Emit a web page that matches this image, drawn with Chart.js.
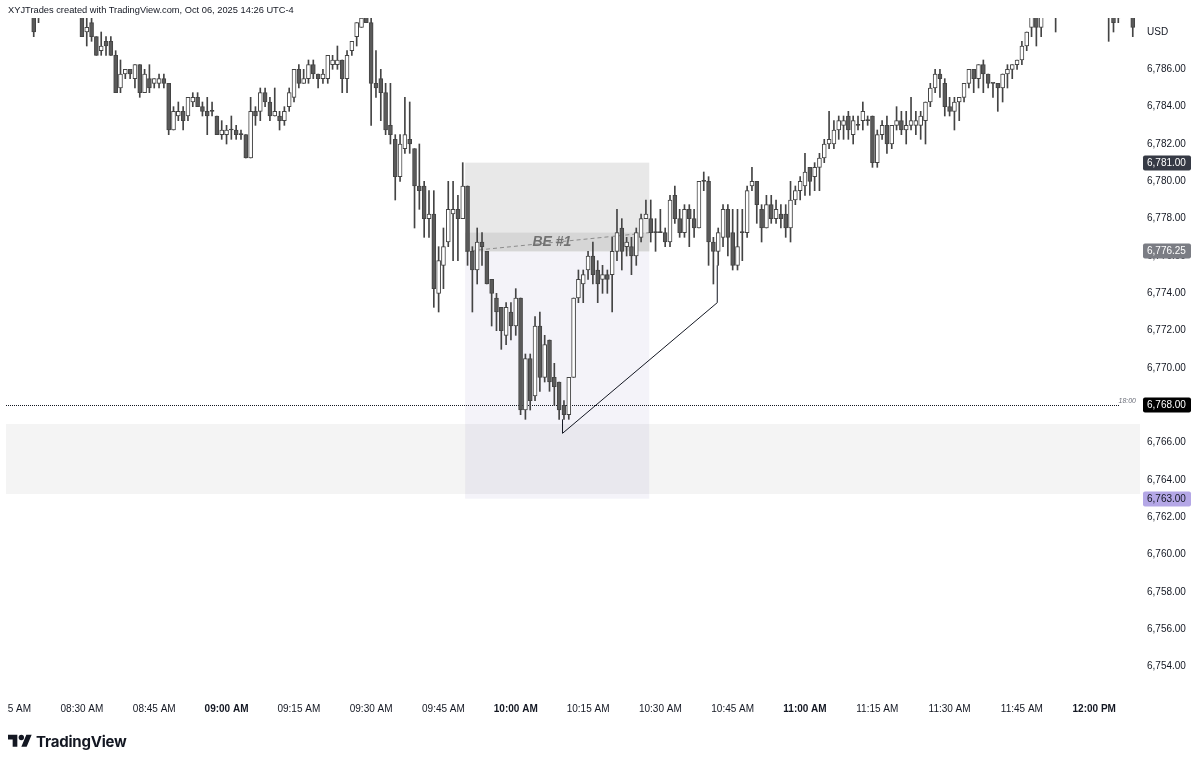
<!DOCTYPE html>
<html>
<head>
<meta charset="utf-8">
<title>XYJTrades 1m chart</title>
<script src="https://cdn.jsdelivr.net/npm/chart.js@4.4.1/dist/chart.umd.min.js"></script>
<style>
  html, body { margin: 0; padding: 0; background: #fff; overflow: hidden; }
  body { width: 1200px; height: 763px; position: relative; font-family: "Liberation Sans", Arial, sans-serif; }
  #wrap { position: absolute; left: -40px; top: 0; width: 1240px; height: 763px; }
  #header { position: absolute; left: 8px; top: 5px; font-size: 9.3px; color: #131722; white-space: nowrap; }
  #logo { position: absolute; left: 8px; top: 732px; display: flex; align-items: center; gap: 4px; color: #131722; }
  #logo span { font-family: Inter, "Liberation Sans", sans-serif; font-weight: 700; font-size: 15px; letter-spacing: -0.2px; }
</style>
</head>
<body>
<div id="wrap"><canvas id="chart" width="1240" height="763"></canvas></div>
<div id="header">XYJTrades created with TradingView.com, Oct 06, 2025 14:26 UTC-4</div>
<div id="logo">
  <svg width="24" height="19" viewBox="0 0 36 28"><path d="M14 22H7V11H0V4h14v18zM28 22h-8l7.5-18h8L28 22z" fill="#131722"/><circle cx="20" cy="8" r="4" fill="#131722"/></svg>
  <span>TradingView</span>
</div>
<script>
// 1-minute candles
const times = [
  "08:20","08:21",
  "08:30","08:31","08:32","08:33","08:34","08:35","08:36","08:37","08:38","08:39",
  "08:40","08:41","08:42","08:43","08:44","08:45","08:46","08:47","08:48","08:49",
  "08:50","08:51","08:52","08:53","08:54","08:55","08:56","08:57","08:58","08:59",
  "09:00","09:01","09:02","09:03","09:04","09:05","09:06","09:07","09:08","09:09",
  "09:10","09:11","09:12","09:13","09:14","09:15","09:16","09:17","09:18","09:19",
  "09:20","09:21","09:22","09:23","09:24","09:25","09:26","09:27","09:28","09:29",
  "09:30","09:31","09:32","09:33","09:34","09:35","09:36","09:37","09:38","09:39",
  "09:40","09:41","09:42","09:43","09:44","09:45","09:46","09:47","09:48","09:49",
  "09:50","09:51","09:52","09:53","09:54","09:55","09:56","09:57","09:58","09:59",
  "10:00","10:01","10:02","10:03","10:04","10:05","10:06","10:07","10:08","10:09",
  "10:10","10:11","10:12","10:13","10:14","10:15","10:16","10:17","10:18","10:19",
  "10:20","10:21","10:22","10:23","10:24","10:25","10:26","10:27","10:28","10:29",
  "10:30","10:31","10:32","10:33","10:34","10:35","10:36","10:37","10:38","10:39",
  "10:40","10:41","10:42","10:43","10:44","10:45","10:46","10:47","10:48","10:49",
  "10:50","10:51","10:52","10:53","10:54","10:55","10:56","10:57","10:58","10:59",
  "11:00","11:01","11:02","11:03","11:04","11:05","11:06","11:07","11:08","11:09",
  "11:10","11:11","11:12","11:13","11:14","11:15","11:16","11:17","11:18","11:19",
  "11:20","11:21","11:22","11:23","11:24","11:25","11:26","11:27","11:28","11:29",
  "11:30","11:31","11:32","11:33","11:34","11:35","11:36","11:37","11:38","11:39",
  "11:40","11:41","11:42","11:43","11:44","11:45","11:46","11:47","11:48","11:49",
  "11:52","12:03","12:04","12:05","12:08"
];
const opens = [
  6789.5,6789.25,
  6789,6788,6788.5,6787.75,6787,6787.5,6787.5,6786.75,6785,6785.75,
  6786,6785.5,6786.25,6784.75,6785.5,6785.25,6785.25,6785.5,6785.25,6782.75,
  6783.5,6783.75,6783.5,6784.25,6784.5,6784,6783.75,6783.75,6783.5,6782.5,
  6782.5,6782.75,6782.75,6782.5,6782.5,6781.25,6783.75,6783.75,6784.75,6784.25,
  6783.5,6783.5,6783.25,6784,6784.5,6786,6785.25,6785.5,6786.25,6785.75,
  6785.5,6785.5,6786.25,6786.25,6786.5,6785.5,6787,6787.75,6788.25,6789.25,
  6788.5,6785.25,6785.5,6784.75,6783,6782.25,6780.25,6781.75,6782.25,6781.75,
  6779.75,6779.75,6778,6778.25,6774,6775.5,6776.75,6778.25,6778.5,6778,
  6779.75,6776.25,6775.25,6776.75,6776.25,6774.75,6773.75,6773.25,6771.75,6773,
  6772.25,6773.75,6767.75,6770.5,6768.5,6772.25,6769.5,6771.5,6769.5,6769.25,
  6768,6767.5,6769.5,6773.75,6774.5,6775.25,6776,6775.25,6774.75,6775,
  6775,6776.25,6777.5,6776.5,6776.5,6776,6777,6778,6778,6777.25,
  6777.25,6777.25,6776.75,6779.25,6778,6777.25,6778.5,6778,6777.5,6780,
  6780,6776.75,6776.25,6777,6778.5,6777.25,6775.5,6777.25,6777.25,6779.75,
  6780,6778.5,6777.5,6778.75,6778,6778.25,6778.25,6777.5,6779,6779.5,
  6779.75,6780.75,6780.25,6780.75,6781.25,6782,6782,6782.75,6783,6783.5,
  6782.5,6783,6783.25,6783.25,6783.5,6781,6782.5,6783,6782,6783,
  6783.25,6782.75,6783,6783,6783,6783.25,6784.25,6785,6785.75,6785.25,
  6784,6783.75,6784.25,6784.5,6785.25,6786,6785.5,6786.25,6785.75,6785.25,
  6785.25,6785,6785.75,6786,6786.25,6786.5,6787.25,6788.25,6789,6788.25,
  6789.5,6789.5,6789,6789,6789
];
const highs = [
  6790,6789.5,
  6789.5,6789,6789,6787.75,6788,6787.75,6787.75,6787,6786.5,6786,
  6786,6786.25,6786.25,6786,6786.25,6785.5,6785.75,6785.75,6785.25,6784,
  6784.25,6784,6784.5,6784.75,6784.75,6784.25,6784.5,6784.25,6783.5,6783.25,
  6783,6783.5,6783,6782.75,6782.5,6784.5,6784,6785,6785,6784.5,
  6785,6783.75,6784,6785,6786,6786.25,6786,6786.5,6786.5,6785.75,
  6786,6786.75,6786.75,6787.25,6786.5,6787,6787.5,6788.5,6789,6789.5,
  6789,6787,6786,6785.25,6785.25,6782.5,6782.5,6784.5,6784.25,6781.75,
  6782,6780,6779.5,6779.5,6776.5,6777.5,6780,6780,6779.25,6781,
  6779.75,6776.5,6777.5,6777.25,6776.25,6774.75,6774,6773.25,6773.5,6773.5,
  6774.25,6773.75,6770.75,6770.75,6772.75,6773,6771.75,6771.5,6770.25,6769.25,
  6768.25,6769.5,6773.75,6775.25,6775.25,6776.25,6776.75,6775.75,6775.5,6775.25,
  6777,6778.5,6778,6777,6777,6777.5,6778.25,6779,6779,6778,
  6778.5,6777.5,6779.25,6779.75,6778.5,6778.75,6778.75,6778.5,6780,6780.5,
  6780.25,6777,6777.5,6778.75,6778.75,6778.5,6778.5,6778.5,6779.75,6780.75,
  6780,6778.75,6779.25,6779.25,6779,6778.75,6778.75,6780,6779.75,6780.25,
  6781.5,6780.75,6781,6781.5,6782.25,6783.75,6783.25,6783.5,6783.5,6783.75,
  6783.5,6783.5,6784.25,6783.5,6783.5,6782.75,6783.25,6783.5,6783,6784,
  6783.75,6783.75,6784.5,6783.75,6783.75,6784.25,6785.25,6786,6786,6785.5,
  6784.5,6784.5,6784.5,6785.25,6786,6786,6786.25,6786.5,6785.75,6785.25,
  6785.25,6785.75,6786.25,6786.25,6786.5,6787.5,6788,6789.25,6789.25,6789.5,
  6790,6790,6789.5,6789.5,6789.5
];
const lows = [
  6787.75,6788.5,
  6787.75,6787.25,6787.5,6786.75,6786.75,6786.75,6786.75,6784.75,6784.75,6785.5,
  6785.5,6785,6784.5,6784.75,6784.75,6785,6785,6785,6782.5,6782.75,
  6783.25,6782.75,6783.25,6784,6784,6783.5,6782.5,6783.5,6782.5,6782.25,
  6782,6782.25,6782.25,6782.25,6781.25,6781.25,6783,6783.25,6784,6783.25,
  6783.5,6782.75,6783,6783.75,6784.25,6785,6785.25,6785.25,6785.5,6785,
  6785.25,6785.25,6786,6786,6784.75,6784.75,6786.75,6787.25,6788.25,6788.5,
  6783,6784.5,6783.25,6782.5,6782,6779,6780,6781.5,6781.5,6777.5,
  6778.5,6777,6777,6773.25,6773,6774.25,6776.5,6775.75,6775.75,6778,
  6775.5,6773,6774.5,6775.5,6774.5,6772.25,6772,6771,6771.25,6771.5,
  6771.75,6767.5,6767.25,6767.75,6768.25,6768.75,6769.25,6768.75,6768,6767.25,
  6767.25,6767.25,6769.5,6773.5,6773.5,6774.75,6774.5,6773.5,6774,6774,
  6773,6775.75,6775.25,6776,6775,6775.5,6776.75,6778,6776.75,6776.25,
  6777.25,6776.5,6776.5,6777.75,6777,6777,6776.5,6777,6777.5,6779.5,
  6775.5,6774.5,6775.5,6776.5,6776,6775.25,6775.25,6775.75,6777,6779.5,
  6777.75,6776.75,6777.5,6777.75,6777.75,6777.5,6777,6776.75,6778.75,6779,
  6779.25,6779.25,6779.5,6779.5,6781,6781.75,6781.75,6782.25,6782.25,6782.25,
  6782,6782.75,6782.75,6783,6780.75,6780.75,6782.25,6781.5,6781.75,6782.75,
  6782.5,6782,6782.75,6782.5,6782.25,6782,6784,6784.75,6784.5,6783.5,
  6783.5,6782.75,6783.25,6784.25,6785,6784.75,6785,6784.75,6785,6784.5,
  6783.75,6784.25,6785,6785.5,6786,6786.25,6787,6787.75,6787.25,6787.75,
  6788,6787.5,6788,6788.5,6787.75
];
const closes = [
  6788,6789,
  6787.75,6788.25,6787.75,6786.75,6787.25,6787.25,6786.75,6784.75,6785.75,6786,
  6785.75,6786.25,6784.75,6785.75,6785,6785.5,6785.5,6785.25,6782.75,6783.75,
  6783.75,6783.25,6784.5,6784.5,6784,6783.75,6783.5,6783.75,6782.5,6782.75,
  6782.75,6782.75,6782.5,6782.5,6781.25,6783.75,6783.5,6784.75,6784.25,6783.5,
  6783.75,6783.25,6783.75,6784.75,6786,6785.25,6785.5,6786.25,6785.75,6785.5,
  6785.75,6786.75,6786.5,6786.5,6785.5,6786.75,6787.5,6788.5,6788.75,6788.5,
  6785.25,6785,6784.75,6782.75,6782.5,6780.25,6782,6782.5,6782,6779.75,
  6779.5,6778,6778.25,6774.25,6775.75,6776.5,6778.5,6778.5,6778,6779.75,
  6776.25,6775.25,6776.75,6776.5,6774.5,6774,6773,6772,6773.25,6772.25,
  6773.75,6767.75,6770.5,6768.25,6772.25,6769.5,6771.25,6769.25,6769,6767.75,
  6767.5,6769.5,6773.75,6774.75,6775,6776,6775,6774.5,6775,6774.75,
  6776.25,6777.25,6776.25,6776.75,6776,6777.25,6778,6778.25,6777.25,6777.25,
  6777.25,6776.75,6779,6778,6777.25,6778.5,6778,6777.5,6780,6780,
  6776.75,6776.25,6777.25,6778.5,6777,6775.5,6776.5,6777.25,6779.5,6780,
  6778.75,6777.5,6778.75,6778,6778.5,6778,6777.5,6779,6779.5,6780,
  6780.5,6780,6780.75,6781.25,6782,6782.25,6782.75,6783.25,6783.25,6782.75,
  6783.25,6783,6783.75,6783.25,6781,6782.5,6783,6782,6783,6783.25,
  6782.75,6783,6783.25,6783.25,6783.5,6784.25,6785,6785.75,6785.5,6784,
  6783.75,6784.25,6784.5,6785.25,6786,6785.5,6786.25,6785.75,6785.25,6785.25,
  6785,6785.75,6786,6786.25,6786.5,6787.25,6788,6789,6788.25,6789,
  6789.75,6789.25,6788.5,6789,6788.25
];

// axis ticks
const xTickTimes = ["08:15","08:30","08:45","09:00","09:15","09:30","09:45","10:00",
  "10:15","10:30","10:45","11:00","11:15","11:30","11:45","12:00"];
const yTickValues = [6754,6756,6758,6760,6762,6764,6766,6768,6770,6772,6774,6776,
  6778,6780,6782,6784,6786,6788];

// drawings on the chart
const zoneTimes = ["09:49:30", "10:27:42"];
const targetZone = [6781, 6776.25];
const riskZone = [6776.25, 6763];
const beBand = [6777.25, 6776.25];
const beLinePrices = [6776.25, 6777.25];
const lowBand = [6767, 6763.25];
const pathTimes = ["10:09:42", "10:09:42", "10:41:48", "10:41:48"];
const pathPrices = [6767.25, 6766.5, 6773.5, 6775.5];
const lastPrice = 6768;
const tagPrices = [6781, 6776.25, 6768, 6763];
const tagColors = ["#363a45", "#7b7d84", "#000000", "#b4a7e6"];
const tagText = ["#ffffff", "#ffffff", "#ffffff", "#131722"];

function toMin(t) {
  const p = t.split(":").map(Number);
  return p[0] * 60 + p[1] + (p[2] || 0) / 60;
}
function fmtTime(v) {
  const h = Math.floor(v / 60), m = Math.round(v % 60);
  const h12 = h > 12 ? h - 12 : h;
  return String(h12).padStart(2, "0") + ":" + String(m).padStart(2, "0") + (h >= 12 ? " PM" : " AM");
}
function fmtPrice(v) {
  return v.toLocaleString("en-US", { minimumFractionDigits: 2, maximumFractionDigits: 2 });
}

const FONT = "'Liberation Sans', Arial, sans-serif";
Chart.defaults.font.family = FONT;

const lineColor = "#444444";
const bodyColors = opens.map((o, i) => closes[i] > o ? "#ffffff" : (closes[i] < o ? "#5a5a5a" : lineColor));

const overlay = {
  id: "overlay",
  beforeDatasetsDraw(chart) {
    const { ctx, chartArea: a, scales: { x, y } } = chart;
    const x0 = x.getPixelForValue(toMin(zoneTimes[0]));
    const x1 = x.getPixelForValue(toMin(zoneTimes[1]));
    const band = (lo, hi, left, right, color) => {
      const y0 = y.getPixelForValue(lo), y1 = y.getPixelForValue(hi);
      ctx.fillStyle = color;
      ctx.fillRect(left, Math.min(y0, y1), right - left, Math.abs(y1 - y0));
    };
    ctx.save();
    ctx.beginPath();
    ctx.rect(a.left, a.top, a.width, a.height);
    ctx.clip();
    band(riskZone[0], riskZone[1], x0, x1, "#f4f3f9");
    band(targetZone[0], targetZone[1], x0, x1, "#e8e8e8");
    band(beBand[0], beBand[1], x0, x1, "#d6d6d6");
    band(lowBand[0], lowBand[1], a.left, a.right, "rgba(0,0,0,0.045)");

    // break-even dashed line
    ctx.strokeStyle = "#8c8c8c";
    ctx.lineWidth = 1;
    ctx.setLineDash([4, 3]);
    ctx.beginPath();
    ctx.moveTo(x0, y.getPixelForValue(beLinePrices[0]));
    ctx.lineTo(x1, y.getPixelForValue(beLinePrices[1]));
    ctx.stroke();

    // last price dotted line
    const ly = Math.round(y.getPixelForValue(lastPrice)) + 0.5;
    ctx.strokeStyle = "#131722";
    ctx.setLineDash([1, 1]);
    ctx.beginPath();
    ctx.moveTo(a.left, ly);
    ctx.lineTo(a.right - 20, ly);
    ctx.stroke();
    ctx.setLineDash([]);

    ctx.fillStyle = "#727272";
    ctx.font = "italic bold 14px " + FONT;
    ctx.textAlign = "center";
    ctx.textBaseline = "middle";
    ctx.fillText("BE #1", x.getPixelForValue(toMin("10:07:30")), y.getPixelForValue(6776.75));
    ctx.restore();
  },
  afterDatasetsDraw(chart) {
    const { ctx, chartArea: a, scales: { x, y } } = chart;
    ctx.save();
    ctx.strokeStyle = "#131722";
    ctx.lineWidth = 1;
    ctx.beginPath();
    pathTimes.forEach((t, i) => {
      const px = x.getPixelForValue(toMin(t)), py = y.getPixelForValue(pathPrices[i]);
      if (i === 0) ctx.moveTo(px, py); else ctx.lineTo(px, py);
    });
    ctx.stroke();
    ctx.fillStyle = "#6a6d78";
    ctx.font = "italic 7px " + FONT;
    ctx.textAlign = "right";
    ctx.textBaseline = "bottom";
    ctx.fillText("18:00", a.right - 4, y.getPixelForValue(lastPrice) - 1);
    ctx.restore();
  },
  afterDraw(chart) {
    const { ctx, chartArea: a, scales: { y } } = chart;
    ctx.save();
    // time labels are cut at the pane's left edge
    ctx.fillStyle = "#ffffff";
    ctx.fillRect(0, a.bottom, a.left + 1, 40);
    ctx.font = "10px " + FONT;
    ctx.textBaseline = "middle";
    ctx.textAlign = "left";
    tagPrices.forEach((p, i) => {
      const py = Math.round(y.getPixelForValue(p));
      ctx.fillStyle = tagColors[i];
      ctx.beginPath();
      ctx.roundRect(a.right + 3, py - 7.5, 48, 15, 2);
      ctx.fill();
      ctx.fillStyle = tagText[i];
      ctx.fillText(fmtPrice(p), a.right + 7, py + 0.5);
    });
    ctx.restore();
  }
};

new Chart(document.getElementById("chart"), {
  type: "bar",
  data: {
    datasets: [
      {
        label: "body",
        data: times.map((t, i) => ({ x: toMin(t), y: [opens[i], closes[i]] })),
        backgroundColor: bodyColors,
        borderColor: lineColor,
        borderWidth: 1,
        borderSkipped: false,
        barThickness: 4,
        minBarLength: 1,
        grouped: false,
        clip: 0,
        order: 0
      },
      {
        label: "wick",
        data: times.map((t, i) => ({ x: toMin(t), y: [lows[i], highs[i]] })),
        backgroundColor: lineColor,
        barThickness: 1,
        grouped: false,
        clip: 0,
        order: 1
      }
    ]
  },
  options: {
    responsive: false,
    animation: false,
    devicePixelRatio: 1,
    layout: { padding: { left: 46, top: 18, right: 0, bottom: 38 } },
    plugins: { legend: { display: false }, tooltip: { enabled: false } },
    scales: {
      x: {
        type: "linear",
        position: "bottom",
        min: toMin("08:14:15"),
        max: toMin("12:09:30"),
        offset: false,
        grid: { display: false, drawTicks: false, offset: false },
        border: { display: false },
        afterFit(s) { s.height = 35; },
        afterBuildTicks(s) { s.ticks = xTickTimes.map(t => ({ value: toMin(t) })); },
        ticks: {
          autoSkip: false,
          maxRotation: 0,
          padding: 13,
          color: "#131722",
          font: (c) => ({ family: FONT, size: 10, weight: c.tick && c.tick.value % 60 === 0 ? "bold" : "normal" }),
          callback: (v) => fmtTime(v)
        }
      },
      y: {
        position: "right",
        min: 6752.75,
        max: 6788.75,
        beginAtZero: false,
        grid: { display: false, drawTicks: false },
        border: { display: false },
        afterFit(s) { s.width = 60; },
        afterBuildTicks(s) { s.ticks = yTickValues.map(v => ({ value: v })); },
        ticks: {
          padding: 7,
          crossAlign: "near",
          color: "#131722",
          font: { family: FONT, size: 10 },
          callback: (v) => v === 6788 ? "USD" : fmtPrice(v)
        }
      }
    }
  },
  plugins: [overlay]
});
</script>
</body>
</html>
